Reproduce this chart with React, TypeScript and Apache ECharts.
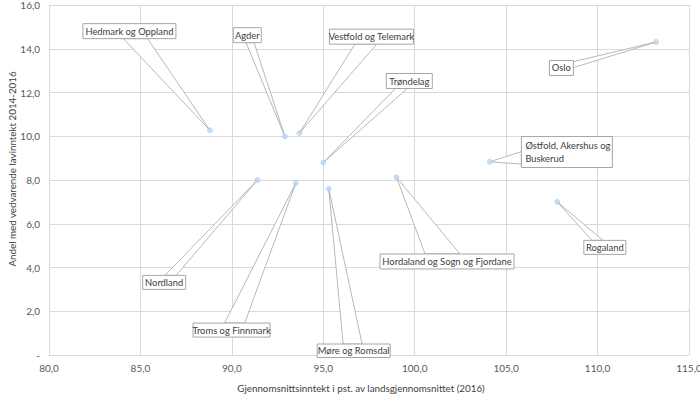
import React, { useEffect, useRef } from "react";
import * as echarts from "echarts";

const regions = [
  "Hedmark og Oppland",
  "Agder",
  "Vestfold og Telemark",
  "Trøndelag",
  "Nordland",
  "Troms og Finnmark",
  "Møre og Romsdal",
  "Hordaland og Sogn og Fjordane",
  "Oslo",
  "Østfold, Akershus og\nBuskerud",
  "Rogaland",
];
const income = [88.8, 92.9, 93.7, 95.0, 91.4, 93.5, 95.3, 99.0, 113.2, 104.1, 107.8];
const lowIncome = [10.27, 9.99, 10.15, 8.8, 8.0, 7.86, 7.6, 8.13, 14.31, 8.83, 7.0];

const xTitle = "Gjennomsnittsinntekt i pst. av landsgjennomsnittet (2016)";
const yTitle = "Andel med vedvarende lavinntekt 2014-2016";

// callout box placement relative to the point (pixels): centre offset and size
const calloutLayout = [
  { dx: -80.5, dy: -99.2, w: 93, h: 15, align: "center" },
  { dx: -37.6, dy: -101.3, w: 28, h: 15, align: "center" },
  { dx: 71.9, dy: -96.3, w: 84, h: 15, align: "center" },
  { dx: 86, dy: -81.5, w: 46, h: 15, align: "center" },
  { dx: -93.3, dy: 102.4, w: 43, h: 14, align: "center" },
  { dx: -64.3, dy: 147, w: 77, h: 14, align: "center" },
  { dx: 24.9, dy: 162, w: 73, h: 13.5, align: "center" },
  { dx: 50.6, dy: 84.3, w: 134, h: 15, align: "center" },
  { dx: -94.7, dy: 26, w: 24, h: 15, align: "center" },
  { dx: 77.2, dy: -9.8, w: 91, h: 31, align: "left" },
  { dx: 47.5, dy: 45.5, w: 42, h: 14, align: "center" },
];

const FONT = "Lato, 'Open Sans', sans-serif";

function fmt(v: number) {
  if (v === 0) return "-";
  return v.toFixed(1).replace(".", ",");
}

function renderCallout(params: any, api: any) {
  const i = api.value(2);
  const p = api.coord([api.value(0), api.value(1)]);
  const L = calloutLayout[i];
  const cx = p[0] + L.dx;
  const cy = p[1] + L.dy;
  const x0 = cx - L.w / 2;
  const y0 = cy - L.h / 2;
  const x1 = cx + L.w / 2;
  const y1 = cy + L.h / 2;
  const vx = p[0] - cx;
  const vy = p[1] - cy;
  const tx = vx !== 0 ? (L.w / 2) / Math.abs(vx) : Infinity;
  const ty = vy !== 0 ? (L.h / 2) / Math.abs(vy) : Infinity;
  let base: number[][];
  if (ty <= tx) {
    const ex = cx + vx * ty;
    const ey = vy > 0 ? y1 : y0;
    const half = Math.max(4, L.w * 0.13);
    const a = Math.max(x0 + 1, Math.min(x1 - 1 - 2 * half, ex - half));
    base = [[a, ey], [a + 2 * half, ey]];
  } else {
    const ey = cy + vy * tx;
    const ex = vx > 0 ? x1 : x0;
    const half = Math.max(3, L.h * 0.2);
    const a = Math.max(y0 + 1, Math.min(y1 - 1 - 2 * half, ey - half));
    base = [[ex, a], [ex, a + 2 * half]];
  }
  const lines = regions[i].split("\n");
  const children: any[] = [
    {
      type: "polygon",
      shape: { points: [base[0], [p[0], p[1]], base[1]] },
      style: { fill: "#ffffff", stroke: "#a6a6a6", lineWidth: 0.8 },
    },
    {
      type: "rect",
      shape: { x: x0, y: y0, width: L.w, height: L.h },
      style: { fill: "#ffffff", stroke: "#a6a6a6", lineWidth: 1 },
    },
  ];
  const lh = 12.5;
  lines.forEach((t, k) => {
    const ty0 = cy - ((lines.length - 1) * lh) / 2 + k * lh;
    children.push({
      type: "text",
      style: {
        text: t,
        x: L.align === "left" ? x0 + 4 : cx,
        y: ty0,
        align: L.align,
        verticalAlign: "middle",
        textAlign: L.align,
        textVerticalAlign: "middle",
        font: `9.4px ${FONT}`,
        fill: "#404040",
      },
    });
  });
  return { type: "group", children };
}

export default function App() {
  const ref = useRef<HTMLDivElement>(null);
  useEffect(() => {
    if (!ref.current) return;
    const chart = echarts.init(ref.current, undefined, { renderer: "svg" });
    const pts = income.map((x, i) => [x, lowIncome[i], i]);
    chart.setOption({
      animation: false,
      grid: { left: 49, right: 11, top: 5, bottom: 41, containLabel: false, outerBoundsMode: "none" },
      xAxis: {
        type: "value",
        min: 80,
        max: 115,
        interval: 5,
        name: xTitle,
        nameLocation: "middle",
        nameGap: 28,
        nameMoveOverlap: false,
        nameTextStyle: { fontFamily: FONT, fontSize: 9.8, color: "#404040", padding: [0, 16, 0, 0] },
        axisLine: { show: true, lineStyle: { color: "#d9d9d9" } },
        axisTick: { show: false },
        axisLabel: { formatter: fmt, fontFamily: FONT, fontSize: 10, color: "#595959", margin: 8 },
        splitLine: { show: true, lineStyle: { color: "#d9d9d9", width: 1 } },
      },
      yAxis: {
        type: "value",
        min: 0,
        max: 16,
        interval: 2,
        name: yTitle,
        nameLocation: "middle",
        nameGap: 32,
        nameMoveOverlap: false,
        nameRotate: 90,
        nameTextStyle: { fontFamily: FONT, fontSize: 9.8, color: "#404040", padding: [0, 0, 0, 22] },
        axisLine: { show: true, lineStyle: { color: "#d9d9d9" } },
        axisTick: { show: false },
        axisLabel: { formatter: fmt, fontFamily: FONT, fontSize: 10, color: "#595959", margin: 9 },
        splitLine: { show: true, lineStyle: { color: "#d9d9d9", width: 1 } },
      },
      series: [
        {
          type: "custom",
          coordinateSystem: "cartesian2d",
          data: pts,
          encode: { x: 0, y: 1 },
          renderItem: renderCallout,
          clip: false,
          z: 2,
          silent: true,
        },
        {
          type: "scatter",
          data: pts.map((d) => [d[0], d[1]]),
          symbol: "circle",
          symbolSize: 5,
          itemStyle: { color: "#bdd7ee", borderColor: "#9dc3e6", borderWidth: 0.6 },
          z: 3,
        },
      ],
    });
    return () => chart.dispose();
  }, []);
  return <div ref={ref} style={{ width: 700, height: 396, position: "absolute", left: 0, top: 0 }} />;
}
